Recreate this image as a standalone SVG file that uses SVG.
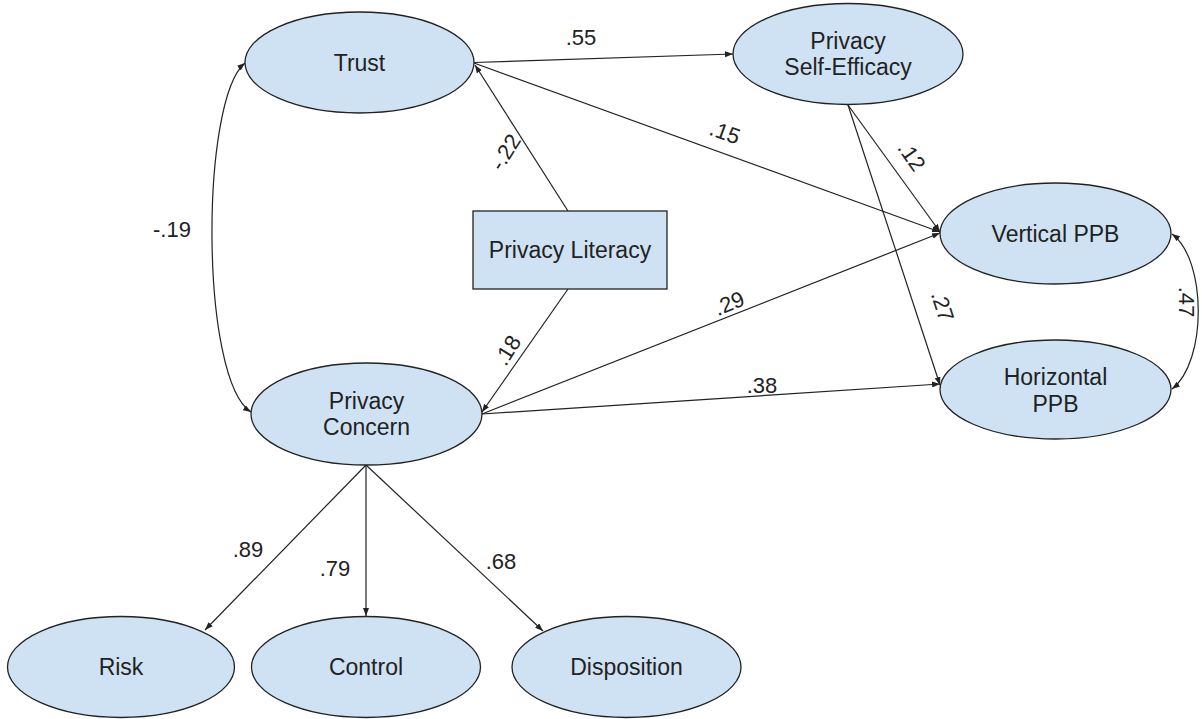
<svg xmlns="http://www.w3.org/2000/svg" width="1202" height="719" viewBox="0 0 1202 719">
<style>
.node{fill:#cfe2f3;stroke:#222;stroke-width:1.3}
.t{font-family:"Liberation Sans",Arial,sans-serif;font-size:23px;fill:#222;text-anchor:middle}
.l{font-family:"Liberation Sans",Arial,sans-serif;font-size:22px;fill:#222;text-anchor:middle}
.c{fill:none;stroke:#222;stroke-width:1.2}
</style>
<defs>
<marker id="ah" markerUnits="userSpaceOnUse" markerWidth="8" markerHeight="6" refX="8" refY="3" orient="auto-start-reverse">
<path d="M0,0 L8,3 L0,6 z" fill="#222"/>
</marker>
</defs>
<rect width="1202" height="719" fill="#fff"/>
<g id="connectors">
<path class="c" d="M474,62.5 L733,54" marker-end="url(#ah)"/>
<path class="c" d="M245,63 C200,100 200,380 251,412" marker-start="url(#ah)" marker-end="url(#ah)"/>
<path class="c" d="M568,211 L475,65" marker-end="url(#ah)"/>
<path class="c" d="M568,289 L482,412" marker-end="url(#ah)"/>
<path class="c" d="M474,63 L940,232" marker-end="url(#ah)"/>
<path class="c" d="M848,105 L940,232" marker-end="url(#ah)"/>
<path class="c" d="M848,105 L940,385" marker-end="url(#ah)"/>
<path class="c" d="M482,414 L940,233" marker-end="url(#ah)"/>
<path class="c" d="M482,414 L940,384" marker-end="url(#ah)"/>
<path class="c" d="M1172,234 C1207,260 1207,362 1172,389" marker-start="url(#ah)" marker-end="url(#ah)"/>
<path class="c" d="M366,465 L205,630" marker-end="url(#ah)"/>
<path class="c" d="M366,465 L366,616" marker-end="url(#ah)"/>
<path class="c" d="M366,465 L543,631" marker-end="url(#ah)"/>
<text class="l" x="581" y="45">.55</text>
<text class="l" x="172" y="237">-.19</text>
<text class="l" transform="translate(505,152) rotate(-58)" y="8">-.22</text>
<text class="l" transform="translate(507,350) rotate(-58)" y="8">.18</text>
<text class="l" transform="translate(725,132) rotate(20)" y="8">.15</text>
<text class="l" transform="translate(912,156) rotate(55)" y="8">.12</text>
<text class="l" transform="translate(943,306) rotate(72)" y="8">.27</text>
<text class="l" transform="translate(729,303) rotate(-22)" y="8">.29</text>
<text class="l" x="762" y="393">.38</text>
<text class="l" transform="translate(1187,302) rotate(90)" y="8">.47</text>
<text class="l" x="248" y="557">.89</text>
<text class="l" x="335" y="576">.79</text>
<text class="l" x="501" y="569">.68</text>
</g>
<g id="trust"><ellipse class="node" cx="359.5" cy="62.5" rx="114.5" ry="50.5"/><text class="t" x="359.5" y="71">Trust</text></g>
<g id="self-efficacy"><ellipse class="node" cx="848" cy="54" rx="115" ry="50.5"/><text class="t" x="848" y="49">Privacy</text><text class="t" x="848" y="75">Self-Efficacy</text></g>
<g id="privacy-literacy"><rect class="node" x="473" y="211" width="194" height="78"/><text class="t" x="570" y="258">Privacy Literacy</text></g>
<g id="vertical-ppb"><ellipse class="node" cx="1055.5" cy="233.5" rx="115.5" ry="50.5"/><text class="t" x="1055.5" y="242">Vertical PPB</text></g>
<g id="horizontal-ppb"><ellipse class="node" cx="1055.5" cy="389.5" rx="115.5" ry="49.5"/><text class="t" x="1055.5" y="385">Horizontal</text><text class="t" x="1055.5" y="412">PPB</text></g>
<g id="privacy-concern"><ellipse class="node" cx="366.5" cy="414" rx="115.5" ry="51"/><text class="t" x="366.5" y="409">Privacy</text><text class="t" x="366.5" y="435">Concern</text></g>
<g id="risk"><ellipse class="node" cx="121" cy="667" rx="113.5" ry="50.5"/><text class="t" x="121" y="675">Risk</text></g>
<g id="control"><ellipse class="node" cx="366" cy="667" rx="114.5" ry="50.5"/><text class="t" x="366" y="675">Control</text></g>
<g id="disposition"><ellipse class="node" cx="626.5" cy="667" rx="114.5" ry="50.5"/><text class="t" x="626.5" y="675">Disposition</text></g>
</svg>
